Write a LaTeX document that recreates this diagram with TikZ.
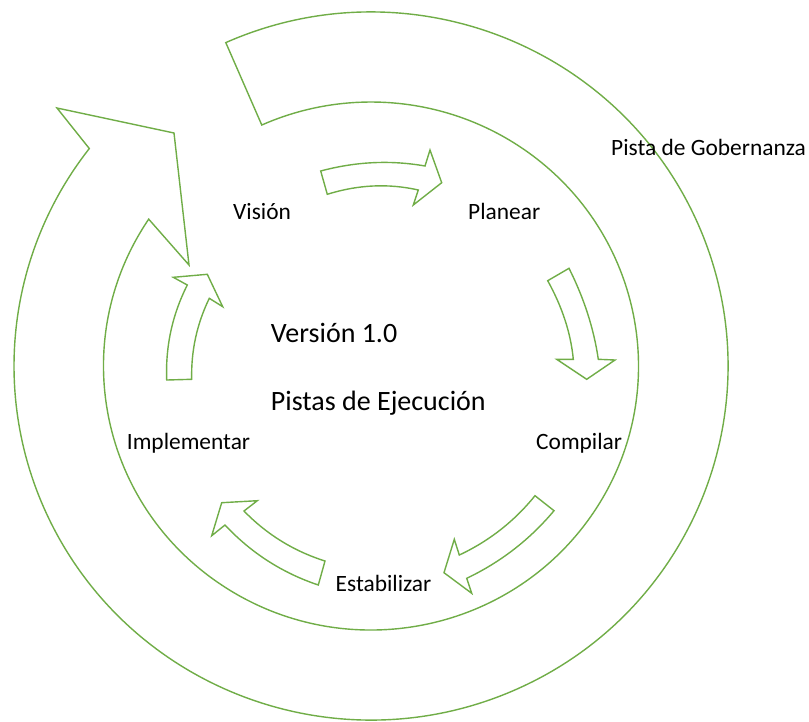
\documentclass[tikz,border=0pt]{standalone}
\usepackage{fontspec}
\setmainfont{Carlito}
\usetikzlibrary{calc}
\definecolor{trackgreen}{HTML}{70AD47}
\begin{document}
\begin{tikzpicture}[x=1pt,y=1pt,
  track/.style={draw=trackgreen, line width=1.4pt, line join=miter, fill=white},
  steplabel/.style={anchor=base west, inner sep=0pt, text=black, font=\fontsize{23.4}{28}\selectfont},
  titlelabel/.style={anchor=base west, inner sep=0pt, text=black, font=\fontsize{28}{33}\selectfont}]
\useasboundingbox (0,0) rectangle (809,-721);
\coordinate (O) at (371,-366);

% outer governance track: a broad circular arrow
\draw[track] ($(O)+(114.0:357 and 354)$)
  arc[start angle=114.0, end angle=-217.9, x radius=357pt, y radius=354pt]
  -- (57,-108) -- (174,-133) -- (189,-265)
  -- ($(O)+(146.2:267.5 and 264)$)
  arc[start angle=-213.8, end angle=114.1, x radius=267.5pt, y radius=264pt]
  -- cycle;

% execution cycle arrows
\draw[track] (320.7,-171) .. controls (355.7,-161.6) and (390.4,-159.9) .. (425,-166)
  -- (430,-150) -- (441.7,-182.7) -- (413.3,-205) -- (418.3,-190)
  .. controls (388.2,-183.2) and (357.9,-184.7) .. (327.3,-194.3) -- cycle;

\draw[track] (569,-268.3) .. controls (584.2,-298.6) and (593.9,-329.0) .. (598.3,-359.3)
  -- (615,-360) -- (586.7,-379.3) -- (556.7,-359.3) -- (573.3,-359.3)
  .. controls (570.8,-333.1) and (562.2,-306.9) .. (547.7,-280.7) -- cycle;

\draw[track] (554,-510.7) .. controls (529.8,-539.6) and (500.7,-562.1) .. (466.7,-578.3)
  -- (471.7,-593.3) -- (444,-572.7) -- (454.3,-539.3) -- (459.3,-555)
  .. controls (489.0,-541.1) and (514.3,-521.3) .. (535,-495.7) -- cycle;

\draw[track] (318.3,-585) .. controls (282.2,-572.9) and (251.1,-552.9) .. (225,-525)
  -- (211.7,-535.7) -- (221.7,-502.7) -- (257.3,-500.7) -- (244,-511)
  .. controls (266.7,-534.4) and (293.7,-551.1) .. (325,-561) -- cycle;

\draw[track] (191.7,-379.3) .. controls (191.0,-350.9) and (196.9,-323.9) .. (209.3,-298.3)
  -- (222.7,-306.7) -- (207.3,-274.3) -- (173.3,-277.3) -- (187.3,-285)
  .. controls (172.2,-314.9) and (165.4,-346.5) .. (166.7,-380) -- cycle;

% labels
\node[steplabel] (vision) at (233,-219) {Visión};
\node[steplabel] (planear) at (468,-219.5) {Planear};
\node[steplabel] (compilar) at (536,-449) {Compilar};
\node[steplabel] (estabilizar) at (335.5,-591.5) {Estabilizar};
\node[steplabel] (implementar) at (126.7,-449) {Implementar};
\node[steplabel] (gobernanza) at (611,-155) {Pista de Gobernanza};
\node[titlelabel] (version) at (270.7,-342) {Versión 1.0};
\node[titlelabel] (ejecucion) at (270.7,-410) {Pistas de Ejecución};
\end{tikzpicture}
\end{document}
